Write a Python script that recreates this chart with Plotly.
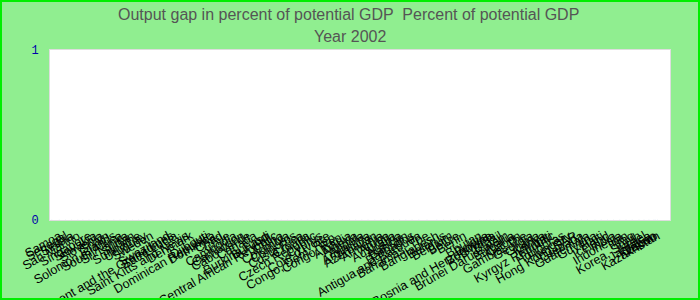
import plotly.graph_objects as go

# Country labels along the x axis and their positions
countries = [
    "Seychelles", "Samoa", "Senegal", "Serbia", "San Marino", "Sao Tome and Principe",
    "Singapore", "Slovakia", "Slovenia", "Spain", "Solomon Islands", "South Africa",
    "Sri Lanka", "Sudan", "Suriname", "Uruguay", "Sweden", "St. Vincent and the Grenadines",
    "Swaziland", "Saint Lucia", "Saint Kitts and Nevis", "Denmark", "Dominican Republic",
    "Djibouti", "Dominica", "Chad", "Chile", "Cambodia", "Cameroon", "Cabo Verde", "Canada",
    "Burkina Faso", "Burundi", "Central African Republic", "China", "Colombia", "Comoros",
    "Costa Rica", "Croatia", "Czech Republic", "Cyprus", "Cote d'Ivoire", "Congo, Dem. Rep.",
    "Congo, Rep.", "Albania", "Algeria", "Angola", "Argentina", "Azerbaijan", "Armenia",
    "Aruba", "Australia", "Austria", "Bahrain", "Barbados", "Antigua and Barbuda",
    "Bahamas, The", "Bangladesh", "Belarus", "Belgium", "Belize", "Benin",
    "Bosnia and Herzegovina", "Bhutan", "Bolivia", "Botswana", "Brazil", "Brunei Darussalam",
    "Bulgaria", "Gabon", "Gambia, The", "Georgia", "Ghana", "Kenya", "Kiribati",
    "Kyrgyz Republic", "Honduras", "Hungary", "Hong Kong SAR", "Grenada", "Guatemala",
    "Guyana", "Haiti", "Iceland", "India", "Indonesia", "Iran", "Iraq", "Korea, South",
    "Israel", "Jamaica", "Japan", "Kosovo", "Kazakhstan",
]
x_values = [
    0.3, 1.5, 2.5, 3.5, 4.5, 5.3,
    6.3, 7.2, 8.2, 9.2, 10.3, 11.3,
    12.3, 13.3, 14.3, 15.3, 16.3, 19.6,
    19.0, 20.2, 22.0, 22.7, 25.8,
    25.2, 26.3, 27.5, 28.7, 29.8, 31.0, 32.0, 33.0,
    35.0, 35.2, 36.3, 37.3, 38.3, 39.4,
    40.5, 41.5, 42.6, 43.6, 44.8, 46.1,
    47.2, 48.3, 49.3, 50.3, 51.3, 52.4, 53.4,
    54.4, 55.4, 56.4, 57.4, 58.4, 59.5,
    60.8, 62.4, 63.5, 64.6, 65.7, 66.8,
    71.0, 69.3, 70.4, 71.5, 72.6, 73.6,
    74.6, 75.6, 76.6, 77.6, 78.6, 79.6, 80.6,
    81.0, 82.7, 83.7, 84.7, 85.7, 86.7,
    87.9, 88.9, 89.9, 90.9, 91.9, 92.9, 93.9, 95.0,
    95.8, 96.6, 97.4, 97.6, 98.0,
]
gap_values = [0] * len(countries)

fig = go.Figure()
fig.add_trace(go.Bar(x=x_values, y=gap_values, marker_color="#4a7ab5", showlegend=False))

title_font = dict(family="Arial, Liberation Sans, sans-serif", size=16, color="#555555")

fig.update_layout(
    width=700, height=300,
    margin=dict(l=50, r=30, t=50, b=80, autoexpand=False),
    paper_bgcolor="#90EE90",
    plot_bgcolor="#ffffff",
    annotations=[
        dict(text="Output gap in percent of potential GDP  Percent of potential GDP",
             xref="paper", yref="paper", x=(348 - 50) / 620, y=(220 - 14) / 170,
             xanchor="center", yanchor="middle", showarrow=False, font=title_font),
        dict(text="Year 2002",
             xref="paper", yref="paper", x=(350 - 50) / 620, y=(220 - 36) / 170,
             xanchor="center", yanchor="middle", showarrow=False, font=title_font),
    ],
    xaxis=dict(
        range=[0, 100], tickmode="array", tickvals=x_values, ticktext=countries,
        tickangle=-30, automargin=False,
        tickfont=dict(family="Arial, Liberation Sans, sans-serif", size=12.5, color="#000000"),
        showgrid=False, zeroline=False, showline=True, linecolor="#dddddd", mirror=True,
        ticks="outside", ticklen=3, tickcolor="rgba(0,0,0,0)",
    ),
    yaxis=dict(
        range=[0, 1], tickmode="array", tickvals=[0, 1], ticktext=["0", "1"], automargin=False,
        tickfont=dict(family="Liberation Mono, DejaVu Sans Mono, monospace", size=12, color="#0000aa"),
        showgrid=False, zeroline=False, showline=True, linecolor="#dddddd", mirror=True,
        ticks="outside", ticklen=8, tickcolor="rgba(0,0,0,0)",
    ),
    shapes=[dict(
        type="rect", xref="paper", yref="paper",
        x0=-49/620, x1=649/620, y0=(220 - 299) / 170, y1=(220 - 1) / 170,
        line=dict(color="#00ee00", width=2), fillcolor="rgba(0,0,0,0)", layer="above",
    )],
)

fig.write_html("out.html")
